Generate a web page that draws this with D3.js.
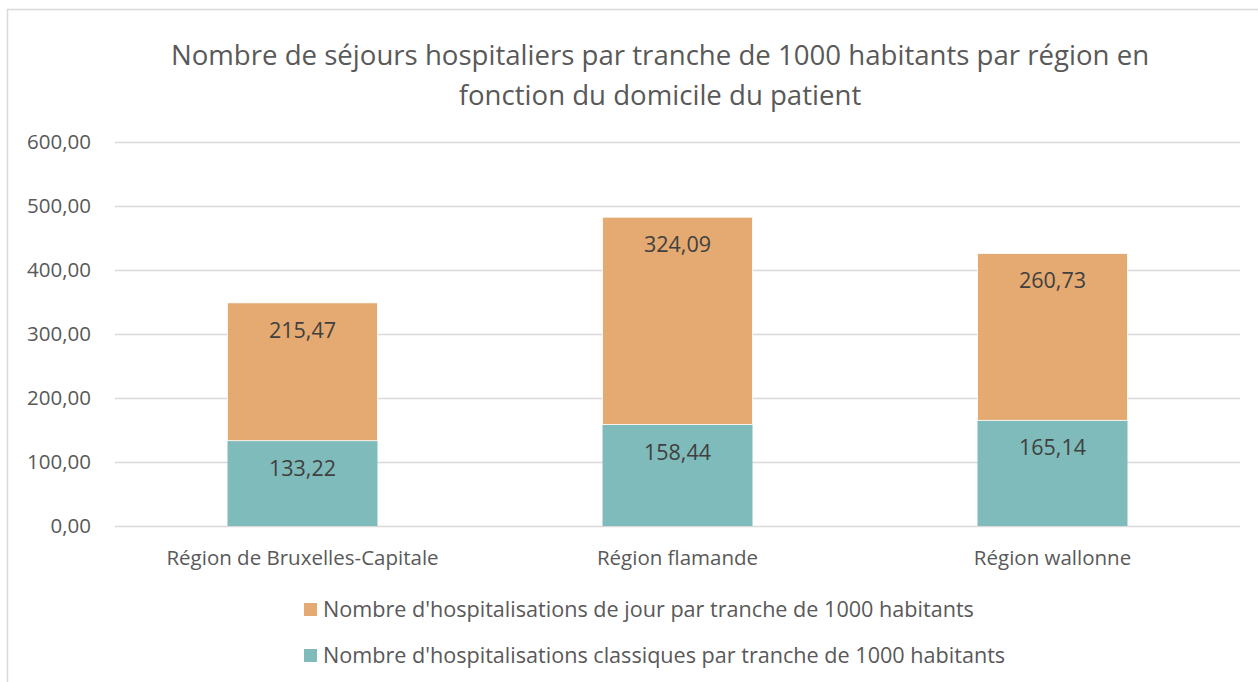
<!DOCTYPE html>
<html><head><meta charset="utf-8">
<script src="https://cdn.jsdelivr.net/npm/d3@7"></script>
<style>body{margin:0;background:#fff}svg{display:block}text{font-family:"Open Sans",sans-serif}</style>
</head><body>
<svg id="c" width="1258" height="682"></svg>
<script>
const categories = ["Région de Bruxelles-Capitale", "Région flamande", "Région wallonne"];
const classiques = [133.22, 158.44, 165.14];
const jour = [215.47, 324.09, 260.73];
const yTicks = [0, 100, 200, 300, 400, 500, 600];
const seriesNames = ["Nombre d'hospitalisations de jour par tranche de 1000 habitants", "Nombre d'hospitalisations classiques par tranche de 1000 habitants"];
const titleLines = ["Nombre de séjours hospitaliers par tranche de 1000 habitants par région en", "fonction du domicile du patient"];
const colors = {jour: "#E4AA71", classiques: "#7FBBBB"};

const svg = d3.select("#c");
const fmt = v => d3.format(".2f")(v).replace(".", ",");

svg.append("rect").attr("x", 7.5).attr("y", 9.5).attr("width", 1270).attr("height", 700)
  .attr("fill", "none").attr("stroke", "#d9d9d9").attr("stroke-width", 1.5);

const x = d3.scaleBand().domain(categories).range([115, 1240]).padding(0);
const y = d3.scaleLinear().domain([0, 600]).range([526, 142]);

// title
svg.append("g").selectAll("text").data(titleLines).join("text")
  .attr("x", 660).attr("y", (d, i) => 65 + i * 40).attr("text-anchor", "middle")
  .attr("fill", "#595959").attr("font-size", 27.6).text(d => d);

// gridlines
svg.append("g").selectAll("line").data(yTicks).join("line")
  .attr("x1", 115).attr("x2", 1240).attr("y1", d => y(d) + 0.5).attr("y2", d => y(d) + 0.5)
  .attr("stroke", "#d9d9d9").attr("stroke-width", 1.3);

// y labels
const yAxis = d3.axisLeft(y).tickValues(yTicks).tickFormat(fmt).tickSize(0).tickPadding(0);
const gy = svg.append("g").attr("transform", "translate(91,0)").call(yAxis);
gy.select(".domain").remove();
gy.selectAll("text").attr("fill", "#595959").attr("font-size", 20.5).attr("font-family", "'Open Sans',sans-serif");

const barW = x.bandwidth() * 0.4;
const bx = c => x(c) + (x.bandwidth() - barW) / 2;

// classiques
const g = svg.append("g");
g.selectAll(".cl").data(categories).join("rect").attr("class", "cl")
  .attr("x", bx).attr("width", barW)
  .attr("y", (c, i) => y(classiques[i])).attr("height", (c, i) => y(0) - y(classiques[i]))
  .attr("fill", colors.classiques);
g.selectAll(".jo").data(categories).join("rect").attr("class", "jo")
  .attr("x", bx).attr("width", barW)
  .attr("y", (c, i) => y(classiques[i] + jour[i])).attr("height", (c, i) => y(classiques[i]) - y(classiques[i] + jour[i]))
  .attr("fill", colors.jour).attr("stroke", "#fff").attr("stroke-width", 0.8);

// labels
g.selectAll(".lc").data(categories).join("text")
  .attr("x", c => x(c) + x.bandwidth() / 2).attr("y", (c, i) => y(classiques[i]) + 35)
  .attr("text-anchor", "middle").attr("fill", "#404040").attr("font-size", 21.5)
  .text((c, i) => fmt(classiques[i]));
g.selectAll(".lj").data(categories).join("text")
  .attr("x", c => x(c) + x.bandwidth() / 2).attr("y", (c, i) => y(classiques[i] + jour[i]) + 35)
  .attr("text-anchor", "middle").attr("fill", "#404040").attr("font-size", 21.5)
  .text((c, i) => fmt(jour[i]));

// x axis labels
const xAxis = d3.axisBottom(x).tickSize(0).tickPadding(0);
const gx = svg.append("g").attr("transform", "translate(0,565)").call(xAxis);
gx.select(".domain").remove();
gx.selectAll("text").attr("fill", "#595959").attr("font-size", 20.5).attr("dy", 0).attr("font-family", "'Open Sans',sans-serif");

// legend
const lg = svg.append("g").selectAll("g").data(seriesNames).join("g")
  .attr("transform", (d, i) => `translate(304,${603 + i * 46})`);
lg.append("rect").attr("width", 13).attr("height", 13).attr("fill", (d, i) => i === 0 ? colors.jour : colors.classiques);
lg.append("text").attr("x", 19).attr("y", 14).attr("fill", "#595959").attr("font-size", 21.6).text(d => d);
</script>
</body></html>
